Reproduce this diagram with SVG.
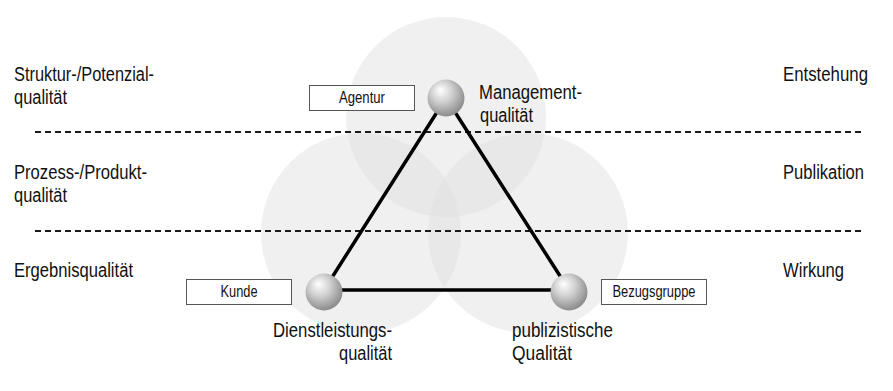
<svg xmlns="http://www.w3.org/2000/svg" width="893" height="391" viewBox="0 0 893 391">
<defs>
<radialGradient id="sph" cx="0.42" cy="0.38" r="0.62" fx="0.35" fy="0.28">
<stop offset="0" stop-color="#ffffff"/>
<stop offset="0.45" stop-color="#d2d2d2"/>
<stop offset="1" stop-color="#8c8c8c"/>
</radialGradient>
<style>
.zone{fill:#dfdfdf;fill-opacity:0.47;stroke:none}
.dash{stroke:#1a1a1a;stroke-width:2;stroke-dasharray:6 4;fill:none}
.edge{stroke:#000;stroke-width:3.5;fill:none;stroke-linecap:round}
.ball{fill:url(#sph)}
.box{fill:#fff;stroke:#555;stroke-width:1}
.t{font-family:"Liberation Sans Narrow","Liberation Sans",Arial,sans-serif;font-size:20px;fill:#111}
.s{font-family:"Liberation Sans Narrow","Liberation Sans",Arial,sans-serif;font-size:16px;fill:#111;text-anchor:middle}
</style>
</defs>
<rect width="893" height="391" fill="#fff"/>
<g id="zones">
<circle class="zone" cx="446" cy="117" r="100"/>
<circle class="zone" cx="361" cy="233" r="100"/>
<circle class="zone" cx="528" cy="233" r="100"/>
</g>
<g id="levels">
<line class="dash" x1="35" y1="132" x2="862" y2="132"/>
<line class="dash" x1="35" y1="231" x2="862" y2="231"/>
</g>
<g id="level-labels-left">
<text class="t" x="14" y="81" textLength="140" lengthAdjust="spacingAndGlyphs">Struktur-/Potenzial-</text>
<text class="t" x="14" y="104" textLength="53" lengthAdjust="spacingAndGlyphs">qualität</text>
<text class="t" x="14" y="179" textLength="133" lengthAdjust="spacingAndGlyphs">Prozess-/Produkt-</text>
<text class="t" x="14" y="202" textLength="53" lengthAdjust="spacingAndGlyphs">qualität</text>
<text class="t" x="14" y="277" textLength="119" lengthAdjust="spacingAndGlyphs">Ergebnisqualität</text>
</g>
<g id="level-labels-right">
<text class="t" x="783" y="81" textLength="85" lengthAdjust="spacingAndGlyphs">Entstehung</text>
<text class="t" x="783" y="179" textLength="81" lengthAdjust="spacingAndGlyphs">Publikation</text>
<text class="t" x="783" y="277" textLength="61" lengthAdjust="spacingAndGlyphs">Wirkung</text>
</g>
<g id="connectors">
<line class="edge" x1="446" y1="98" x2="324" y2="290"/>
<line class="edge" x1="446" y1="98" x2="569" y2="290"/>
<line class="edge" x1="324" y1="290" x2="569" y2="290"/>
</g>
<g id="management">
<circle class="ball" cx="446" cy="98" r="18.5"/>
<text class="t" x="479" y="99" textLength="103" lengthAdjust="spacingAndGlyphs">Management-</text>
<text class="t" x="480" y="122" textLength="53" lengthAdjust="spacingAndGlyphs">qualität</text>
</g>
<g id="agentur">
<rect class="box" x="309.5" y="85.5" width="105" height="25"/>
<text class="s" x="362" y="103" textLength="46" lengthAdjust="spacingAndGlyphs">Agentur</text>
</g>
<g id="dienstleistung">
<circle class="ball" cx="324" cy="292" r="18.5"/>
<text class="t" x="273" y="337" textLength="119" lengthAdjust="spacingAndGlyphs">Dienstleistungs-</text>
<text class="t" x="392" y="360" text-anchor="end" textLength="53" lengthAdjust="spacingAndGlyphs">qualität</text>
</g>
<g id="kunde">
<rect class="box" x="186.5" y="279.5" width="105" height="25"/>
<text class="s" x="239" y="297" textLength="37" lengthAdjust="spacingAndGlyphs">Kunde</text>
</g>
<g id="publizistik">
<circle class="ball" cx="569" cy="292" r="18.5"/>
<text class="t" x="512" y="337" textLength="101" lengthAdjust="spacingAndGlyphs">publizistische</text>
<text class="t" x="512" y="360" textLength="60" lengthAdjust="spacingAndGlyphs">Qualität</text>
</g>
<g id="bezugsgruppe">
<rect class="box" x="601.5" y="279.5" width="105" height="25"/>
<text class="s" x="654" y="297" textLength="83" lengthAdjust="spacingAndGlyphs">Bezugsgruppe</text>
</g>
</svg>
